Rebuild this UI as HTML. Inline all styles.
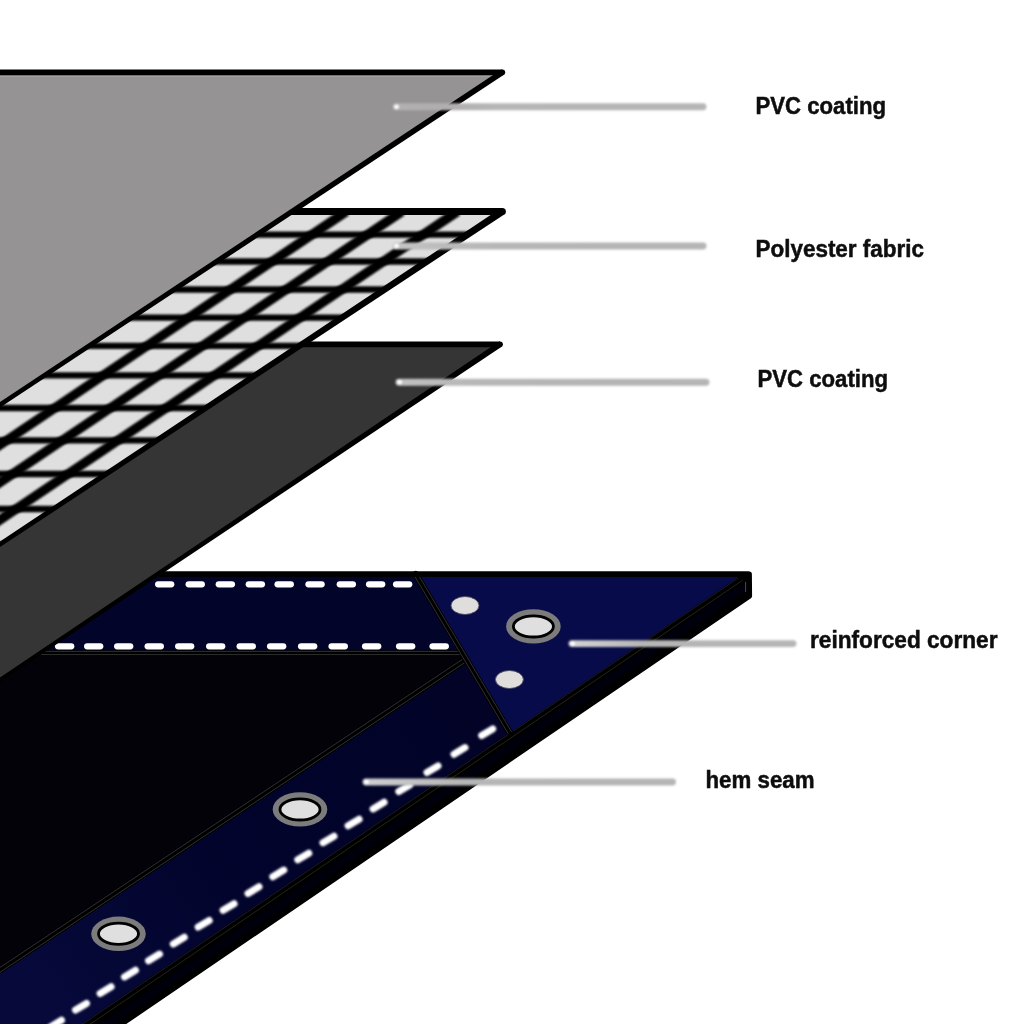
<!DOCTYPE html>
<html><head><meta charset="utf-8"><title>Tarpaulin layers</title>
<style>html,body{margin:0;padding:0;background:#fff;}body{width:1024px;height:1024px;overflow:hidden;font-family:"Liberation Sans",sans-serif;}svg{display:block;position:absolute;left:0;top:0}text{font-family:"Liberation Sans",sans-serif;font-weight:bold;fill:#0a0a0a;stroke:#0a0a0a;stroke-width:0.45px}</style>
</head><body>
<svg width="1024" height="1024" viewBox="0 0 1024 1024">
<defs>
<filter id="bh" x="-5%" y="-5%" width="110%" height="110%"><feGaussianBlur stdDeviation="0.8"/></filter>
<filter id="bd" x="-5%" y="-5%" width="110%" height="110%"><feGaussianBlur stdDeviation="1.25"/></filter>
<filter id="b2" x="-5%" y="-150%" width="110%" height="400%"><feGaussianBlur stdDeviation="1.0"/></filter>
<filter id="b3" x="-5%" y="-5%" width="110%" height="110%"><feGaussianBlur stdDeviation="0.5"/></filter>
<filter id="b4" x="-5%" y="-5%" width="110%" height="110%"><feGaussianBlur stdDeviation="0.35"/></filter>
<linearGradient id="hg" gradientUnits="userSpaceOnUse" x1="480" y1="700" x2="40" y2="1000"><stop offset="0" stop-color="#020327"/><stop offset="0.6" stop-color="#03042d"/><stop offset="1" stop-color="#06093a"/></linearGradient>
<filter id="bt" x="-2%" y="-2%" width="104%" height="104%"><feGaussianBlur stdDeviation="0.35"/></filter>
<linearGradient id="ldg" x1="0" x2="1" y1="0" y2="0"><stop offset="0" stop-color="#c8c8c8"/><stop offset="0.12" stop-color="#bbbbbb"/><stop offset="0.3" stop-color="#b6b6b6"/><stop offset="1" stop-color="#b5b5b5"/></linearGradient>
</defs>
<rect width="1024" height="1024" fill="#fff"/>
<g id="blue">
<polygon points="-20,574.2 749.2,574.2 749.4,596 121.5,1024 121,1040 -20,1040" fill="#000" stroke="#000" stroke-width="5.4" stroke-linejoin="round"/>
<polygon points="734,589 745,583 745,591.5 112,1025 96,1027" fill="#01010f" filter="url(#b3)"/>
<line x1="745.6" y1="582" x2="745.6" y2="592" stroke="#4a4a4a" stroke-width="1"/>
<clipPath id="topface"><polygon points="-20,574 743,574 82,1026 -20,1026"/></clipPath>
<g clip-path="url(#topface)">
<rect x="-20" y="570" width="800" height="470" fill="#020208"/>
<polygon points="-20,577 417,577 463,653 -20,653" fill="#020429"/>
<polygon points="467,663 520,740 84,1030 -20,1030 -20,982" fill="url(#hg)"/>
<polygon points="416,574 745,574 511,735" fill="#070b49"/>
</g>
<line x1="742" y1="578" x2="85" y2="1025" stroke="#000" stroke-width="5.5"/>
<line x1="742.5" y1="580.3" x2="88" y2="1025.6" stroke="#222220" stroke-width="1"/>
<line x1="738" y1="578.2" x2="81" y2="1025.2" stroke="#1e1e28" stroke-width="0.9"/>
<line x1="-20" y1="653" x2="460" y2="653" stroke="#000" stroke-width="5.6" stroke-linecap="round"/>
<line x1="-20.00" y1="651.40" x2="460.00" y2="651.40" stroke="#303030" stroke-width="1.0"/>
<line x1="-20.00" y1="654.60" x2="460.00" y2="654.60" stroke="#303030" stroke-width="1.0"/>
<line x1="463.5" y1="661" x2="-20" y2="983.2" stroke="#000" stroke-width="7.0" stroke-linecap="round"/>
<line x1="464.61" y1="662.66" x2="-18.89" y2="984.86" stroke="#303030" stroke-width="1.0"/>
<line x1="462.39" y1="659.34" x2="-21.11" y2="981.54" stroke="#303030" stroke-width="1.0"/>
<line x1="415.6" y1="574" x2="510" y2="733" stroke="#000" stroke-width="6.4" stroke-linecap="round"/>
<line x1="417.23" y1="573.03" x2="511.63" y2="732.03" stroke="#303030" stroke-width="1.0"/>
<line x1="413.97" y1="574.97" x2="508.37" y2="733.97" stroke="#303030" stroke-width="1.0"/>
<line x1="-20" y1="574.2" x2="748" y2="574.2" stroke="#000" stroke-width="5.4" stroke-linecap="round"/>
<g filter="url(#b3)">
<line x1="158.2" y1="584.3" x2="171.2" y2="584.3" stroke="#fff" stroke-width="6.3" stroke-linecap="round"/>
<line x1="188.7" y1="584.3" x2="201.8" y2="584.3" stroke="#fff" stroke-width="6.3" stroke-linecap="round"/>
<line x1="218.8" y1="584.3" x2="231.9" y2="584.3" stroke="#fff" stroke-width="6.3" stroke-linecap="round"/>
<line x1="248.8" y1="584.3" x2="261.9" y2="584.3" stroke="#fff" stroke-width="6.3" stroke-linecap="round"/>
<line x1="277.6" y1="584.3" x2="290.8" y2="584.3" stroke="#fff" stroke-width="6.3" stroke-linecap="round"/>
<line x1="308.5" y1="584.3" x2="321.6" y2="584.3" stroke="#fff" stroke-width="6.3" stroke-linecap="round"/>
<line x1="339.8" y1="584.3" x2="352.9" y2="584.3" stroke="#fff" stroke-width="6.3" stroke-linecap="round"/>
<line x1="369.1" y1="584.3" x2="382.2" y2="584.3" stroke="#fff" stroke-width="6.3" stroke-linecap="round"/>
<line x1="396.1" y1="584.3" x2="409.2" y2="584.3" stroke="#fff" stroke-width="6.3" stroke-linecap="round"/>
<line x1="58.1" y1="646.3" x2="71.2" y2="646.3" stroke="#fff" stroke-width="6.3" stroke-linecap="round"/>
<line x1="87.2" y1="646.3" x2="100.2" y2="646.3" stroke="#fff" stroke-width="6.3" stroke-linecap="round"/>
<line x1="117.2" y1="646.3" x2="130.2" y2="646.3" stroke="#fff" stroke-width="6.3" stroke-linecap="round"/>
<line x1="147.7" y1="646.3" x2="160.8" y2="646.3" stroke="#fff" stroke-width="6.3" stroke-linecap="round"/>
<line x1="178.2" y1="646.3" x2="191.2" y2="646.3" stroke="#fff" stroke-width="6.3" stroke-linecap="round"/>
<line x1="209.2" y1="646.3" x2="222.2" y2="646.3" stroke="#fff" stroke-width="6.3" stroke-linecap="round"/>
<line x1="239.7" y1="646.3" x2="252.8" y2="646.3" stroke="#fff" stroke-width="6.3" stroke-linecap="round"/>
<line x1="270.1" y1="646.3" x2="283.2" y2="646.3" stroke="#fff" stroke-width="6.3" stroke-linecap="round"/>
<line x1="301.1" y1="646.3" x2="314.2" y2="646.3" stroke="#fff" stroke-width="6.3" stroke-linecap="round"/>
<line x1="331.6" y1="646.3" x2="344.8" y2="646.3" stroke="#fff" stroke-width="6.3" stroke-linecap="round"/>
<line x1="365.1" y1="646.3" x2="378.2" y2="646.3" stroke="#fff" stroke-width="6.3" stroke-linecap="round"/>
<line x1="399.1" y1="646.3" x2="412.2" y2="646.3" stroke="#fff" stroke-width="6.3" stroke-linecap="round"/>
<line x1="432.6" y1="646.3" x2="445.8" y2="646.3" stroke="#fff" stroke-width="6.3" stroke-linecap="round"/>
</g><g filter="url(#bh)">
<line x1="492.7" y1="728.9" x2="481.7" y2="735.5" stroke="#fff" stroke-width="7.0" stroke-linecap="round"/>
<line x1="465.0" y1="747.6" x2="454.0" y2="754.2" stroke="#fff" stroke-width="7.0" stroke-linecap="round"/>
<line x1="438.0" y1="765.9" x2="427.0" y2="772.5" stroke="#fff" stroke-width="7.0" stroke-linecap="round"/>
<line x1="409.8" y1="784.9" x2="398.8" y2="791.5" stroke="#fff" stroke-width="7.0" stroke-linecap="round"/>
<line x1="384.1" y1="802.3" x2="373.1" y2="808.9" stroke="#fff" stroke-width="7.0" stroke-linecap="round"/>
<line x1="359.1" y1="819.2" x2="348.1" y2="825.8" stroke="#fff" stroke-width="7.0" stroke-linecap="round"/>
<line x1="334.0" y1="836.2" x2="323.0" y2="842.7" stroke="#fff" stroke-width="7.0" stroke-linecap="round"/>
<line x1="308.8" y1="853.2" x2="297.8" y2="859.8" stroke="#fff" stroke-width="7.0" stroke-linecap="round"/>
<line x1="283.8" y1="870.1" x2="272.8" y2="876.7" stroke="#fff" stroke-width="7.0" stroke-linecap="round"/>
<line x1="259.0" y1="886.8" x2="248.0" y2="893.4" stroke="#fff" stroke-width="7.0" stroke-linecap="round"/>
<line x1="234.1" y1="903.7" x2="223.1" y2="910.3" stroke="#fff" stroke-width="7.0" stroke-linecap="round"/>
<line x1="209.2" y1="920.5" x2="198.2" y2="927.1" stroke="#fff" stroke-width="7.0" stroke-linecap="round"/>
<line x1="184.3" y1="937.3" x2="173.3" y2="943.9" stroke="#fff" stroke-width="7.0" stroke-linecap="round"/>
<line x1="159.5" y1="954.1" x2="148.5" y2="960.7" stroke="#fff" stroke-width="7.0" stroke-linecap="round"/>
<line x1="135.5" y1="970.3" x2="124.5" y2="976.9" stroke="#fff" stroke-width="7.0" stroke-linecap="round"/>
<line x1="111.1" y1="986.8" x2="100.1" y2="993.4" stroke="#fff" stroke-width="7.0" stroke-linecap="round"/>
<line x1="86.5" y1="1003.4" x2="75.5" y2="1010.0" stroke="#fff" stroke-width="7.0" stroke-linecap="round"/>
<line x1="61.5" y1="1020.3" x2="50.5" y2="1026.9" stroke="#fff" stroke-width="7.0" stroke-linecap="round"/>
<line x1="36.5" y1="1037.2" x2="25.5" y2="1043.8" stroke="#fff" stroke-width="7.0" stroke-linecap="round"/>
</g>
<ellipse cx="465" cy="605.5" rx="14.0" ry="9.0" fill="#e0dedc" stroke="#4a4a60" stroke-width="0.9" filter="url(#b3)"/>
<ellipse cx="509.4" cy="679.5" rx="14.0" ry="9.0" fill="#e0dedc" stroke="#4a4a60" stroke-width="0.9" filter="url(#b3)"/>
<g filter="url(#b4)"><ellipse cx="533.4" cy="626.4" rx="27.3" ry="17.2" fill="#7b7b7b"/>
<ellipse cx="533.4" cy="626.4" rx="20" ry="10.6" fill="#dfdfdf" stroke="#000" stroke-width="2.8"/></g>
<g filter="url(#b4)"><ellipse cx="300" cy="809.4" rx="27.3" ry="17.2" fill="#7b7b7b"/>
<ellipse cx="300" cy="809.4" rx="20" ry="10.6" fill="#dfdfdf" stroke="#000" stroke-width="2.8"/></g>
<g filter="url(#b4)"><ellipse cx="118.5" cy="933.8" rx="27.3" ry="17.2" fill="#7b7b7b"/>
<ellipse cx="118.5" cy="933.8" rx="20" ry="10.6" fill="#dfdfdf" stroke="#000" stroke-width="2.8"/></g>
</g>
<polygon points="-20,344.3 500,344.3 -20,693.22" fill="#353535"/>

<line x1="-20" y1="344.3" x2="500" y2="344.3" stroke="#000" stroke-width="5.8"/>
<polygon points="498.38,341.89 -21.00,691.73 -19.00,694.71 501.62,346.71" fill="#000"/>
<circle cx="500" cy="344.3" r="2.90" fill="#000"/>
<clipPath id="meshclip"><polygon points="-20,211.5 502.3,211.5 -20,557.52"/></clipPath>
<polygon points="-20,211.5 502.3,211.5 -20,557.52" fill="#dfdfdf"/>
<g clip-path="url(#meshclip)" stroke="#000" fill="none">
<g filter="url(#bh)">
<line x1="-20" y1="234.6" x2="520" y2="234.6" stroke-width="6.3"/>
<line x1="-20" y1="261.5" x2="520" y2="261.5" stroke-width="6.3"/>
<line x1="-20" y1="289.5" x2="520" y2="289.5" stroke-width="6.3"/>
<line x1="-20" y1="317.6" x2="520" y2="317.6" stroke-width="6.3"/>
<line x1="-20" y1="345.8" x2="520" y2="345.8" stroke-width="6.3"/>
<line x1="-20" y1="375.3" x2="520" y2="375.3" stroke-width="6.3"/>
<line x1="-20" y1="408" x2="520" y2="408" stroke-width="6.3"/>
<line x1="-20" y1="440.3" x2="520" y2="440.3" stroke-width="6.3"/>
<line x1="-20" y1="474" x2="520" y2="474" stroke-width="6.3"/>
<line x1="-20" y1="509" x2="520" y2="509" stroke-width="6.3"/>
<line x1="-20" y1="545" x2="520" y2="545" stroke-width="6.3"/>
</g><g filter="url(#bd)">
<line x1="457.5" y1="211.5" x2="-67.0" y2="565" stroke-width="9.4"/>
<line x1="401.9" y1="211.5" x2="-122.6" y2="565" stroke-width="9.4"/>
<line x1="346.3" y1="211.5" x2="-178.2" y2="565" stroke-width="9.4"/>
<line x1="235.1" y1="211.5" x2="-289.4" y2="565" stroke-width="9.4"/>
<line x1="179.5" y1="211.5" x2="-345.0" y2="565" stroke-width="9.4"/>
<line x1="123.9" y1="211.5" x2="-400.6" y2="565" stroke-width="9.4"/>
<line x1="68.3" y1="211.5" x2="-456.2" y2="565" stroke-width="9.4"/>
<line x1="12.7" y1="211.5" x2="-511.8" y2="565" stroke-width="9.4"/>
<line x1="-42.9" y1="211.5" x2="-567.4" y2="565" stroke-width="9.4"/>
<line x1="-98.5" y1="211.5" x2="-623.0" y2="565" stroke-width="9.4"/>
<line x1="-154.1" y1="211.5" x2="-678.6" y2="565" stroke-width="9.4"/>
<line x1="-209.7" y1="211.5" x2="-734.2" y2="565" stroke-width="9.4"/>
<line x1="-265.3" y1="211.5" x2="-789.8" y2="565" stroke-width="9.4"/>
<line x1="-320.9" y1="211.5" x2="-845.4" y2="565" stroke-width="9.4"/>
</g></g>
<line x1="-20" y1="211.5" x2="502.3" y2="211.5" stroke="#000" stroke-width="7.2"/>
<polygon points="500.37,208.58 -21.27,555.61 -18.73,559.44 504.23,214.42" fill="#000"/>
<circle cx="502.3" cy="211.5" r="3.60" fill="#000"/>
<polygon points="-20,72.3 502.3,72.3 -20,418.06" fill="#959394"/>
<line x1="-20" y1="76.2" x2="494" y2="76.2" stroke="#a9a7a8" stroke-width="1"/>
<line x1="-20" y1="72.3" x2="502.3" y2="72.3" stroke="#000" stroke-width="5.8"/>
<polygon points="500.70,69.88 -21.24,416.19 -18.76,419.94 503.90,74.72" fill="#000"/>
<circle cx="502.3" cy="72.3" r="2.90" fill="#000"/>
<linearGradient id="lg1" x1="0" x2="1" y1="0" y2="0"><stop offset="0" stop-color="#b2b0b1"/><stop offset="0.14" stop-color="#b0aeaf"/><stop offset="0.32" stop-color="#b6b6b6"/><stop offset="1" stop-color="#b5b5b5"/></linearGradient>
<g filter="url(#b2)"><rect x="392.55" y="103.35" width="313.9" height="6.9" rx="3.45" fill="url(#lg1)"/>
<circle cx="396.5" cy="106.8" r="2.4" fill="#fff"/></g>
<linearGradient id="lg2" x1="0" x2="1" y1="0" y2="0"><stop offset="0" stop-color="#c6c6c6"/><stop offset="0.14" stop-color="#bcbcbc"/><stop offset="0.32" stop-color="#b6b6b6"/><stop offset="1" stop-color="#b5b5b5"/></linearGradient>
<g filter="url(#b2)"><rect x="392.55" y="242.55" width="313.9" height="6.9" rx="3.45" fill="url(#lg2)"/>
<circle cx="396.5" cy="246" r="2.4" fill="#fff"/></g>
<linearGradient id="lg3" x1="0" x2="1" y1="0" y2="0"><stop offset="0" stop-color="#c2c2c2"/><stop offset="0.14" stop-color="#bababa"/><stop offset="0.32" stop-color="#b6b6b6"/><stop offset="1" stop-color="#b5b5b5"/></linearGradient>
<g filter="url(#b2)"><rect x="395.55" y="378.75" width="313.9" height="6.9" rx="3.45" fill="url(#lg3)"/>
<circle cx="399.5" cy="382.2" r="2.4" fill="#fff"/></g>
<linearGradient id="lg4" x1="0" x2="1" y1="0" y2="0"><stop offset="0" stop-color="#d4d4d4"/><stop offset="0.14" stop-color="#c8c8c8"/><stop offset="0.32" stop-color="#b6b6b6"/><stop offset="1" stop-color="#b5b5b5"/></linearGradient>
<g filter="url(#b2)"><rect x="568.55" y="640.15" width="227.9" height="6.9" rx="3.45" fill="url(#lg4)"/>
<circle cx="572.5" cy="643.6" r="2.4" fill="#fff"/></g>
<linearGradient id="lg5" x1="0" x2="1" y1="0" y2="0"><stop offset="0" stop-color="#d0d0d0"/><stop offset="0.14" stop-color="#c4c4c4"/><stop offset="0.32" stop-color="#b6b6b6"/><stop offset="1" stop-color="#b5b5b5"/></linearGradient>
<g filter="url(#b2)"><rect x="362.55" y="778.55" width="313.4" height="6.9" rx="3.45" fill="url(#lg5)"/>
<circle cx="366.5" cy="782" r="2.4" fill="#fff"/></g>
<g filter="url(#bt)">
<text x="755.5" y="113.9" font-size="23" textLength="130.5" lengthAdjust="spacingAndGlyphs">PVC coating</text>
<text x="755.5" y="256.5" font-size="23" textLength="168.5" lengthAdjust="spacingAndGlyphs">Polyester fabric</text>
<text x="757.5" y="387.3" font-size="23" textLength="130.5" lengthAdjust="spacingAndGlyphs">PVC coating</text>
<text x="810" y="648.2" font-size="23" textLength="187.5" lengthAdjust="spacingAndGlyphs">reinforced corner</text>
<text x="705.5" y="787.8" font-size="23" textLength="109" lengthAdjust="spacingAndGlyphs">hem seam</text>
</g>
</svg>
</body></html>
